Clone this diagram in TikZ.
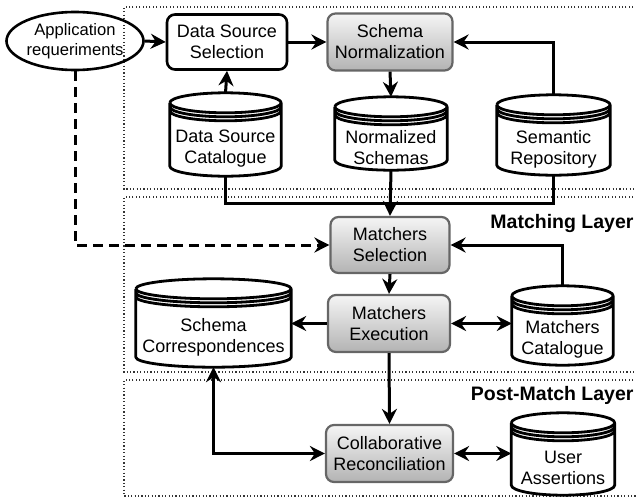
\documentclass[tikz,border=0pt]{standalone}
\usepackage{fontspec}
\setmainfont{Liberation Sans}
\usetikzlibrary{arrows.meta, calc, shapes.geometric}
\definecolor{boxtop}{HTML}{F5F5F5}
\definecolor{boxbot}{HTML}{B3B3B3}
\definecolor{boxline}{HTML}{666666}

\begin{document}
\begin{tikzpicture}
  [x=1pt, y=1pt,
   font=\fontsize{18}{21}\selectfont,
   >={Stealth[length=15pt, width=15pt, inset=5pt]},
   conn/.style={line width=3pt},
   layer/.style={line width=1.1pt, black!80, dash pattern=on 1.1pt off 2.3pt},
   task/.style={rectangle, rounded corners=8pt, draw, line width=2.6pt, align=center, inner sep=0pt},
   graytask/.style={task, draw=boxline, line width=2.2pt, top color=boxtop, bottom color=boxbot},
   store/.style={rectangle, align=center, inner sep=0pt},
   storeline/.style={line width=2.8pt, line join=round},
   layertitle/.style={anchor=east, font=\fontsize{19.5}{23}\selectfont\bfseries}]
  \useasboundingbox (0,0) rectangle (636,-498);

  % layers
  \draw[layer] (640,-7) -| (124,-189) -- (640,-189);
  \draw[layer] (640,-197) -| (124,-372) -- (640,-372);
  \draw[layer] (640,-380) -| (124,-496) -- (640,-496);
  \node[layertitle] (matchlabel) at (637,-223) {Matching Layer};
  \node[layertitle] (postlabel) at (637,-395) {Post-Match Layer};

  % processes
  \node[ellipse, draw, line width=2.6pt, minimum width=124, minimum height=58, inner sep=0pt, align=center,
        font=\fontsize{16.6}{20}\selectfont]
    (app) at (75,-41) {Application\\requeriments};
  \node[task, minimum width=120, minimum height=55] (dss) at (227,-42) {Data Source\\Selection};
  \node[graytask, minimum width=125, minimum height=57] (sn) at (390,-42) {Schema\\Normalization};
  \node[graytask, minimum width=119, minimum height=56] (ms) at (390,-245) {Matchers\\Selection};
  \node[graytask, minimum width=122, minimum height=57] (me) at (389,-323.5) {Matchers\\Execution};
  \node[graytask, minimum width=127, minimum height=57] (cr) at (389.5,-453.5) {Collaborative\\Reconciliation};

  % data stores (node = body under the cap)
  \node[store, minimum width=111, minimum height=55] (dsc) at (225.5,-148.5) {Data Source\\Catalogue};
  \node[store, minimum width=112, minimum height=45] (ns) at (391,-147.5) {Normalized\\Schemas};
  \node[store, minimum width=113, minimum height=52] (sr) at (553.5,-149) {Semantic\\Repository};
  \node[store, minimum width=155, minimum height=60] (sc) at (213.5,-337) {Schema\\Correspondences};
  \node[store, minimum width=101, minimum height=51] (mc) at (562.5,-339.5) {Matchers\\Catalogue};
  \node[store, minimum width=103, minimum height=54] (ua) at (563,-468) {User\\Assertions};

  \foreach \s in {dsc,ns,sr,sc,mc,ua}{
    \draw[storeline] let \p1=(\s.north west), \p2=(\s.south east), \n1={(\x2-\x1)/2} in
      (\x1,\y1+18pt) arc[start angle=180, end angle=-180, x radius=\n1, y radius=10pt]
      (\x1,\y1+14pt) arc[start angle=180, end angle=360, x radius=\n1, y radius=10pt]
      (\x1,\y1+10pt) arc[start angle=180, end angle=360, x radius=\n1, y radius=10pt]
      (\x1,\y1+18pt) -- (\x1,\y2+10pt) arc[start angle=180, end angle=360, x radius=\n1, y radius=10pt]
      -- (\x2,\y1+18pt);
  }

  \coordinate (join) at (390,-203);

  % connectors
  \draw[conn, ->] (app.east) -- (dss.west);
  \draw[conn, ->] (dss.east) -- (sn.west);
  \draw[conn, ->] ([yshift=28pt]dsc.north) -- (dss.south);
  \draw[conn, ->] (sn.south) -- ([yshift=28pt]ns.north);
  \draw[conn, ->] ([yshift=28pt]sr.north) |- (sn.east);
  \draw[conn] (dsc.south) |- (join);
  \draw[conn] (sr.south) |- (join);
  \draw[conn, ->] (ns.south) -- (ms.north);
  \draw[conn, ->, dash pattern=on 10pt off 6pt] (app.south) |- (ms.west);
  \draw[conn, ->] ([yshift=28pt]mc.north) |- (ms.east);
  \draw[conn, ->] (ms.south) -- (me.north);
  \draw[conn, ->] (me.west) -- (me.west -| sc.east);
  \draw[conn, <->] (me.east) -- (me.east -| mc.west);
  \draw[conn, ->] (me.south) -- (cr.north);
  \draw[conn, <->] (sc.south) |- (cr.west);
  \draw[conn, <->] (cr.east) -- (cr.east -| ua.west);
\end{tikzpicture}
\end{document}
